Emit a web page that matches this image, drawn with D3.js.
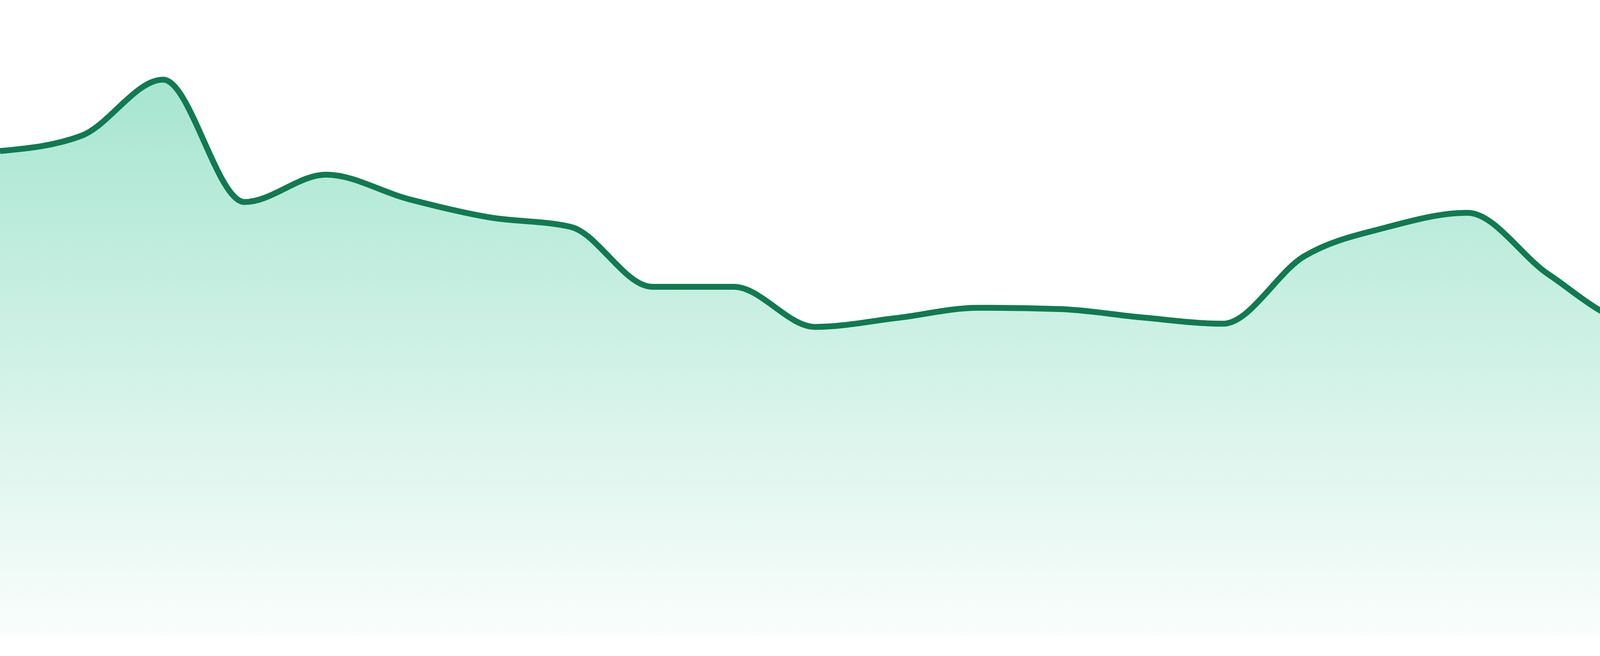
<!DOCTYPE html>
<html>
<head>
<meta charset="utf-8">
<script src="https://cdn.jsdelivr.net/npm/d3@7"></script>
<style>
  html, body { margin: 0; padding: 0; background: #ffffff; }
  svg { display: block; }
</style>
</head>
<body>
<svg id="chart" width="4800" height="1680"></svg>
<script>
// ---- data ----
const categories = ["P1","P2","P3","P4","P5","P6","P7","P8","P9","P10","P11","P12",
                    "P13","P14","P15","P16","P17","P18","P19","P20","P21","P22","P23","P24"];
const values = [76.3, 78.7, 87.5, 68.3, 72.6, 68.8, 65.9, 64.4, 55.0, 55.0, 48.7, 50.1,
                51.7, 51.5, 50.2, 49.2, 59.8, 64.3, 66.6, 56.9, 49.8, 52.0, 55.1, 53.4];
const yDomain = [0, 100];

// ---- layout ----
const W = 4800, H = 1680;
const baseY = 1632;

const svg = d3.select("#chart");

const x = d3.scalePoint().domain(categories).range([0, W]);
const y = d3.scaleLinear().domain(yDomain).range([baseY, 0]);

const data = categories.map((c, i) => ({ c, v: values[i] }));

const defs = svg.append("defs");
const grad = defs.append("linearGradient")
  .attr("id", "fillGrad")
  .attr("x1", 0).attr("y1", 0).attr("x2", 0).attr("y2", 1);
grad.append("stop").attr("offset", "0%").attr("stop-color", "#10b981").attr("stop-opacity", 0.37);
grad.append("stop").attr("offset", "100%").attr("stop-color", "#10b981").attr("stop-opacity", 0.02);

const area = d3.area()
  .x(d => x(d.c))
  .y0(y(0))
  .y1(d => y(d.v))
  .curve(d3.curveMonotoneX);

const line = d3.line()
  .x(d => x(d.c))
  .y(d => y(d.v))
  .curve(d3.curveMonotoneX);

svg.append("path")
  .datum(data)
  .attr("d", area)
  .attr("fill", "url(#fillGrad)");

svg.append("path")
  .datum(data)
  .attr("d", line)
  .attr("fill", "none")
  .attr("stroke", "#117a52")
  .attr("stroke-width", 15)
  .attr("stroke-linejoin", "round");
</script>
</body>
</html>
